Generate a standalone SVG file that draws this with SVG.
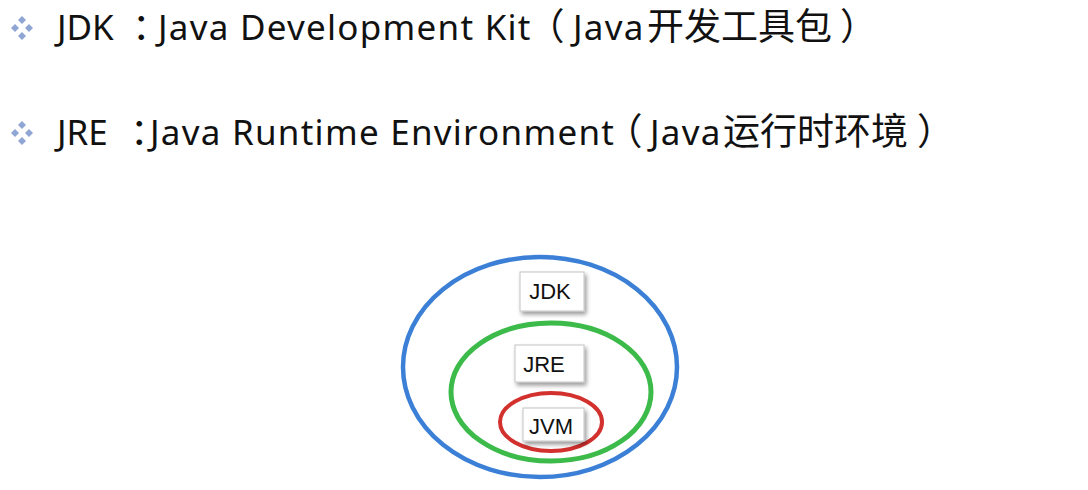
<svg xmlns="http://www.w3.org/2000/svg" width="1088" height="490" viewBox="0 0 1088 490">
<defs>
<style>
.t{font-family:"Noto Sans","Noto Sans CJK SC",sans-serif;font-size:37px;fill:#111;}
.a{font-size:35px;}
.l{font-size:35px;letter-spacing:1.25px;}
.c{font-family:"Noto Sans CJK SC",sans-serif;font-size:37px;letter-spacing:0;}
.h{font-feature-settings:"halt" 1;}
.lbl{font-family:"Liberation Sans",Arial,sans-serif;font-size:22px;fill:#111;text-anchor:middle;}
.box{fill:#fff;stroke:#c4c4c4;stroke-width:1;filter:url(#sh);}
.dia{fill:#8fa6d4;}
.ring{fill:none;}
</style>
<filter id="sh" x="-30%" y="-30%" width="160%" height="170%">
<feDropShadow dx="2" dy="3" stdDeviation="2" flood-color="#000" flood-opacity="0.4"/>
</filter>
<g id="bullet">
<path class="dia" d="M15,24 L19,28 L15,32 L11,28 Z"/>
<path class="dia" d="M22,16 L26,20 L22,24 L18,20 Z"/>
<path class="dia" d="M29,24 L33,28 L29,32 L25,28 Z"/>
<path class="dia" d="M22,32 L26,36 L22,40 L18,36 Z"/>
</g>
</defs>
<rect width="1088" height="490" fill="#fff"/>
<g id="line1">
<use href="#bullet"/>
<text class="t" y="40"><tspan class="a" x="57">JDK</tspan><tspan class="c h" x="132">：</tspan><tspan class="l" x="158">Java Development Kit</tspan><tspan class="c h" x="546">（</tspan><tspan class="l" x="573">Java</tspan><tspan class="c" x="647">开发工具包</tspan><tspan class="c h" x="840">）</tspan></text>
</g>
<g id="line2">
<use href="#bullet" y="105"/>
<text class="t" y="145"><tspan class="a" x="57">JRE</tspan><tspan class="c h" x="130">：</tspan><tspan class="l" x="150">Java Runtime Environment</tspan><tspan class="c h" x="624">（</tspan><tspan class="l" x="650">Java</tspan><tspan class="c" x="723">运行时环境</tspan><tspan class="c h" x="917">）</tspan></text>
</g>
<g id="rings">
<ellipse id="jdk-ring" class="ring" cx="540" cy="367" rx="137" ry="110" stroke="#3b80d6" stroke-width="4.5"/>
<ellipse id="jre-ring" class="ring" cx="551" cy="392" rx="100" ry="69" stroke="#3cba4a" stroke-width="5"/>
<ellipse id="jvm-ring" class="ring" cx="551" cy="422" rx="51" ry="29" stroke="#d2312e" stroke-width="4"/>
</g>
<g id="jdk">
<rect class="box" x="520" y="272" width="64" height="39"/>
<text class="lbl" x="550" y="299">JDK</text>
</g>
<g id="jre">
<rect class="box" x="515" y="345" width="69" height="37"/>
<text class="lbl" x="544" y="372">JRE</text>
</g>
<g id="jvm">
<rect class="box" x="523" y="408" width="61" height="33"/>
<text class="lbl" x="551" y="434">JVM</text>
</g>
</svg>
